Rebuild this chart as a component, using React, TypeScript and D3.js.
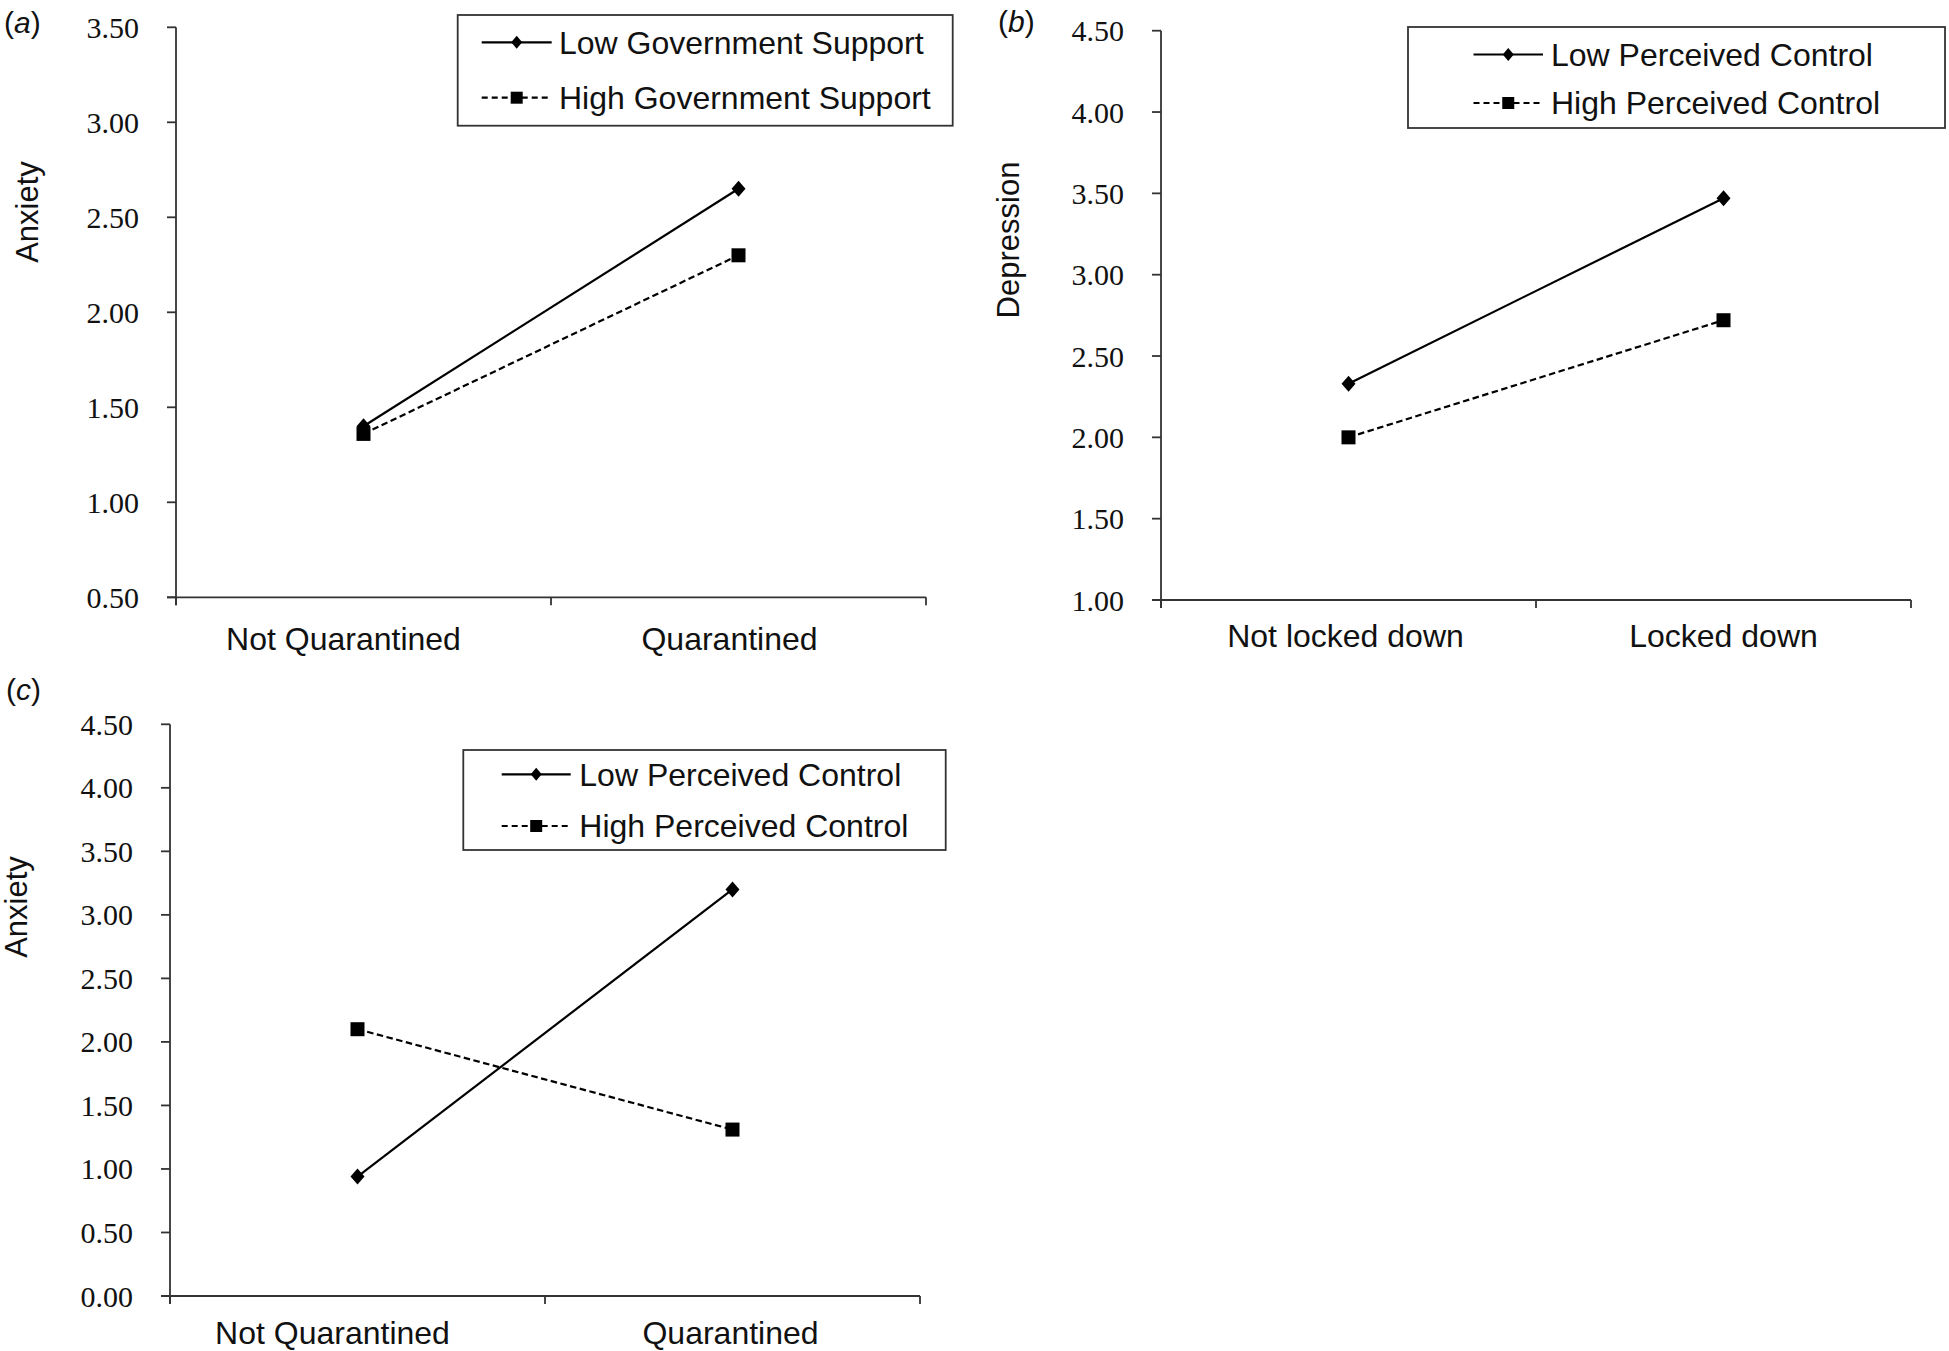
import * as d3 from 'd3';

// ---- data ----
const quarantineCats = ['Not Quarantined', 'Quarantined'];
const lockdownCats = ['Not locked down', 'Locked down'];

const aLowSupport = [1.40, 2.65];
const aHighSupport = [1.36, 2.30];
const aTicks = [0.5, 1.0, 1.5, 2.0, 2.5, 3.0, 3.5];
const aLegend = ['Low Government Support', 'High Government Support'];

const bLowControl = [2.33, 3.47];
const bHighControl = [2.00, 2.72];
const bTicks = [1.0, 1.5, 2.0, 2.5, 3.0, 3.5, 4.0, 4.5];

const cLowControl = [0.94, 3.20];
const cHighControl = [2.10, 1.31];
const cTicks = [0.0, 0.5, 1.0, 1.5, 2.0, 2.5, 3.0, 3.5, 4.0, 4.5];

const controlLegend = ['Low Perceived Control', 'High Perceived Control'];

const W = 1949;
const H = 1351;
const SANS = '"Liberation Sans", Arial, sans-serif';
const SERIF = '"Liberation Serif", "Times New Roman", serif';
const fmt = d3.format('.2f');

interface PanelProps {
  tag: string;
  tagX: number;
  tagY: number;
  title: string;
  titleX: number;
  titleY: number;
  cats: string[];
  low: number[];
  high: number[];
  ticks: number[];
  left: number;
  right: number;
  top: number;
  bottom: number;
  labelDy: number;
  labelShift: number[];
  legend: string[];
  box: { x: number; y: number; w: number; h: number };
  lx1: number;
  lx2: number;
  rows: number[];
  textX: number;
}

function diamond(cx: number, cy: number, rx: number, ry: number) {
  return `M${cx},${cy - ry}L${cx + rx},${cy}L${cx},${cy + ry}L${cx - rx},${cy}Z`;
}

function Panel(p: PanelProps) {
  const y = d3.scaleLinear()
    .domain([p.ticks[0], p.ticks[p.ticks.length - 1]])
    .range([p.bottom, p.top]);
  const x = d3.scaleBand().domain(p.cats).range([p.left, p.right]);
  const cx = (c: string) => (x(c) ?? 0) + x.bandwidth() / 2;

  const line = d3.line<number>()
    .x((_, i) => cx(p.cats[i]))
    .y(v => y(v));

  const xTicks = [p.left, ...p.cats.map(c => (x(c) ?? 0) + x.bandwidth())];
  const mid = (p.lx1 + p.lx2) / 2;

  return (
    <g>
      <text x={p.tagX} y={p.tagY} fontFamily={SANS} fontSize={30} fill="#111">
        (<tspan fontStyle="italic">{p.tag}</tspan>)
      </text>
      <text
        transform={`translate(${p.titleX},${p.titleY}) rotate(-90)`}
        textAnchor="middle"
        fontFamily={SANS}
        fontSize={31}
        fill="#111"
      >
        {p.title}
      </text>

      {/* y axis */}
      <line x1={p.left} x2={p.left} y1={p.top} y2={p.bottom + 8} stroke="#333" strokeWidth={1.8} />
      {p.ticks.map(t => (
        <g key={t}>
          <line x1={p.left - 9} x2={p.left} y1={y(t)} y2={y(t)} stroke="#333" strokeWidth={1.8} />
          <text
            x={p.left - 37}
            y={y(t)}
            dy="0.35em"
            textAnchor="end"
            fontFamily={SERIF}
            fontSize={30}
            fill="#111"
          >
            {fmt(t)}
          </text>
        </g>
      ))}

      {/* x axis */}
      <line x1={p.left - 9} x2={p.right} y1={p.bottom} y2={p.bottom} stroke="#333" strokeWidth={1.8} />
      {xTicks.map((tx, i) => (
        <line key={i} x1={tx} x2={tx} y1={p.bottom} y2={p.bottom + 8} stroke="#333" strokeWidth={1.8} />
      ))}
      {p.cats.map((c, i) => (
        <text
          key={c}
          x={cx(c) + p.labelShift[i]}
          y={p.bottom + p.labelDy}
          textAnchor="middle"
          fontFamily={SANS}
          fontSize={32}
          fill="#111"
        >
          {c}
        </text>
      ))}

      {/* series */}
      <path d={line(p.low) ?? ''} fill="none" stroke="#000" strokeWidth={2.2} />
      <path d={line(p.high) ?? ''} fill="none" stroke="#000" strokeWidth={2.2} strokeDasharray="6.5,3.5" />
      {p.low.map((v, i) => (
        <path key={'l' + i} d={diamond(cx(p.cats[i]), y(v), 7, 8)} fill="#000" />
      ))}
      {p.high.map((v, i) => (
        <rect key={'h' + i} x={cx(p.cats[i]) - 7} y={y(v) - 7} width={14} height={14} fill="#000" />
      ))}

      {/* legend */}
      <rect x={p.box.x} y={p.box.y} width={p.box.w} height={p.box.h} fill="#fff" stroke="#333" strokeWidth={1.8} />
      <line x1={p.lx1} x2={p.lx2} y1={p.rows[0]} y2={p.rows[0]} stroke="#000" strokeWidth={2.2} />
      <path d={diamond(mid, p.rows[0], 5.5, 6.5)} fill="#000" />
      <line x1={p.lx1} x2={p.lx2} y1={p.rows[1]} y2={p.rows[1]} stroke="#000" strokeWidth={2.2} strokeDasharray="6,4" />
      <rect x={mid - 6} y={p.rows[1] - 6} width={12} height={12} fill="#000" />
      {p.legend.map((s, i) => (
        <text key={s} x={p.textX} y={p.rows[i]} dy="0.35em" fontFamily={SANS} fontSize={32} fill="#111">
          {s}
        </text>
      ))}
    </g>
  );
}

export default function App() {
  return (
    <svg
      width={W}
      height={H}
      viewBox={`0 0 ${W} ${H}`}
      style={{ position: 'absolute', left: 0, top: 0, background: '#fff' }}
    >
      <rect width={W} height={H} fill="#fff" />
      <Panel
        tag="a" tagX={4} tagY={33}
        title="Anxiety" titleX={38} titleY={212}
        cats={quarantineCats} low={aLowSupport} high={aHighSupport} ticks={aTicks}
        left={176} right={926} top={27.3} bottom={597.3}
        labelDy={53} labelShift={[-20, -9]}
        legend={aLegend}
        box={{ x: 457.7, y: 15, w: 495, h: 110.7 }}
        lx1={481.7} lx2={551.7} rows={[42.3, 97.7]} textX={559}
      />
      <Panel
        tag="b" tagX={998} tagY={32}
        title="Depression" titleX={1019} titleY={240}
        cats={lockdownCats} low={bLowControl} high={bHighControl} ticks={bTicks}
        left={1161} right={1911} top={30.7} bottom={600}
        labelDy={47} labelShift={[-3, 0]}
        legend={controlLegend}
        box={{ x: 1408, y: 27, w: 537, h: 101 }}
        lx1={1473.5} lx2={1543} rows={[54.5, 103]} textX={1551}
      />
      <Panel
        tag="c" tagX={6} tagY={700}
        title="Anxiety" titleX={27} titleY={907}
        cats={quarantineCats} low={cLowControl} high={cHighControl} ticks={cTicks}
        left={170} right={920} top={724.3} bottom={1296}
        labelDy={48} labelShift={[-25, -2]}
        legend={controlLegend}
        box={{ x: 463.3, y: 750, w: 482.4, h: 100 }}
        lx1={501.7} lx2={570.7} rows={[774.3, 826]} textX={579.3}
      />
    </svg>
  );
}
